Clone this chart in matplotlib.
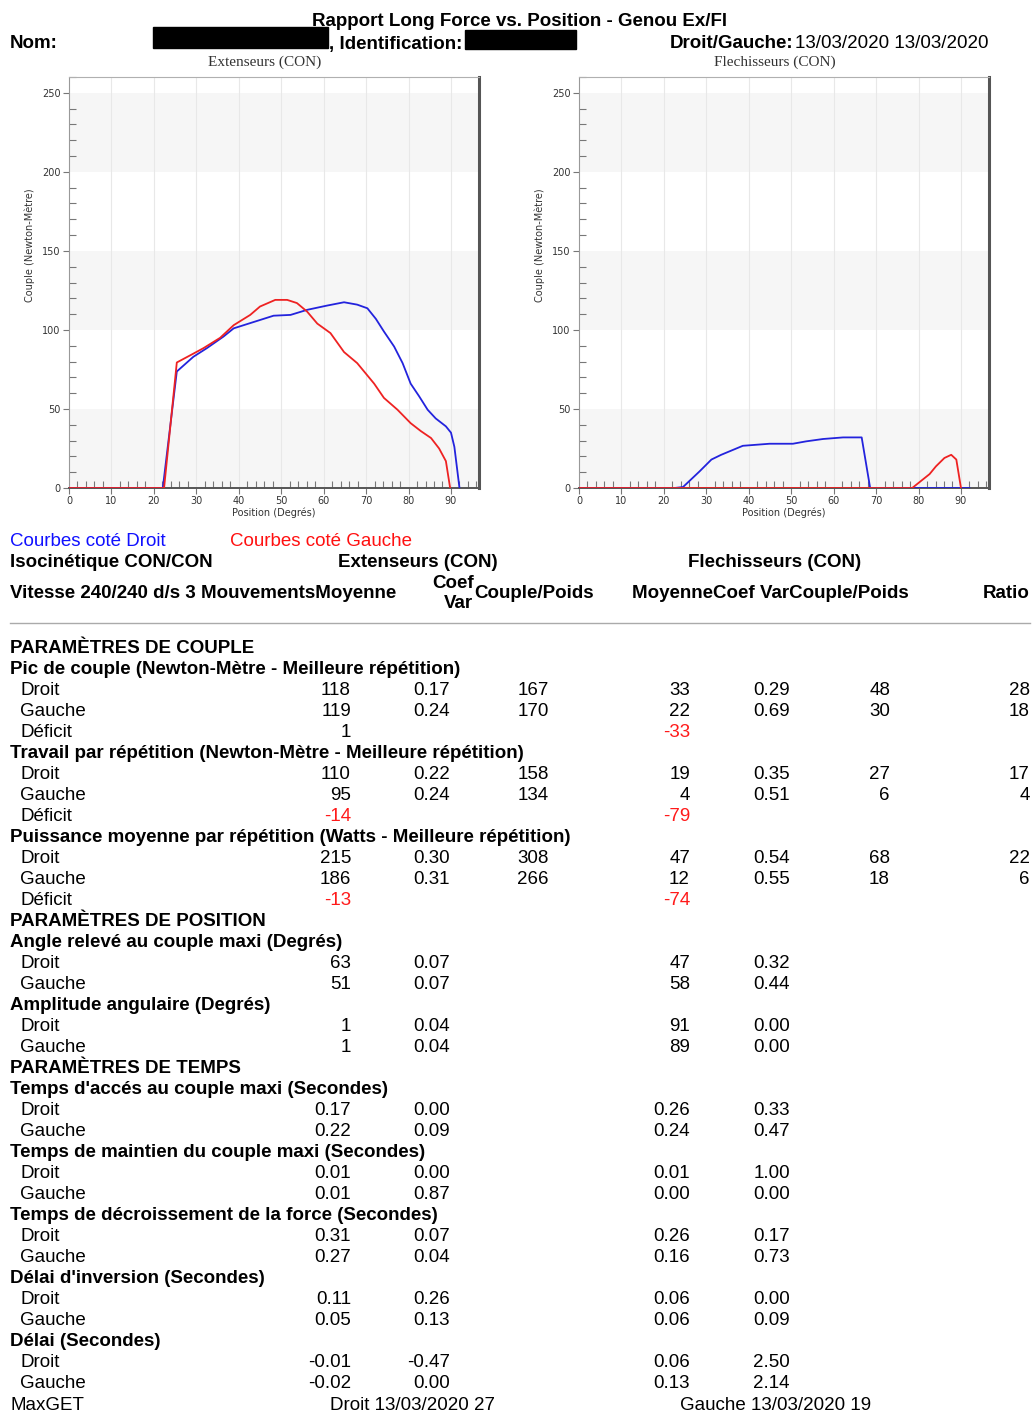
import matplotlib
matplotlib.use('Agg')
import matplotlib.pyplot as plt
from matplotlib.patches import Rectangle
from matplotlib.ticker import MultipleLocator

W, H = 1033, 1416

# courbes couple / position (degrés, Newton-Mètre)
ext_droit_pos = [0, 22.1, 25.4, 29.3, 32.5, 36.4, 38.8, 43.5, 48.2, 52.2, 56.1, 60.8, 64.8,
                 67.9, 70.3, 72.3, 74.2, 76.6, 78.6, 80.5, 82.5, 84.5, 86.4, 88.8, 90.0, 90.8, 92.0]
ext_droit_val = [0, 0, 73.7, 83, 88.5, 95.8, 101, 105, 109, 109.5, 112.7, 115.4, 117.5,
                 116, 113.7, 107, 99, 89.5, 79, 66, 58, 49.5, 44, 39, 35, 26, 0]
ext_gauche_pos = [0, 22.4, 25.4, 29.3, 31.7, 35.6, 38.8, 42.7, 45.0, 48.6, 51.4, 53.7, 56.1,
                  58.5, 61.6, 64.8, 67.9, 71.9, 74.2, 77.4, 80.5, 82.9, 85.3, 87.2, 88.8, 89.8]
ext_gauche_val = [0, 0, 79.4, 85, 88.5, 95, 103, 109.5, 114.8, 119, 119, 117, 111.6,
                  104, 98, 86, 79, 66, 57, 49.5, 41, 36, 31.6, 25, 17, 0]
flex_droit_pos = [0, 22.5, 24.5, 28.4, 31.2, 33.5, 38.6, 44.9, 50.4, 53.5, 57.5, 62.2, 66.6, 68.6, 92.0]
flex_droit_val = [0, 0, 0.6, 10.5, 18, 21, 26.7, 28, 28, 29.5, 31, 32, 32, 0, 0]
flex_gauche_pos = [0, 78.5, 82.6, 84.1, 86.1, 87.7, 88.9, 90.0]
flex_gauche_val = [0, 0, 8.8, 13.7, 19, 21, 18, 0]

# tableau des paramètres : Ext. moyenne, coef var, couple/poids, Flex. moyenne, coef var, couple/poids, ratio
table_rows = [
    ('section', 'PARAMÈTRES DE COUPLE', None),
    ('head', 'Pic de couple (Newton-Mètre - Meilleure répétition)', None),
    ('row', 'Droit', ['118', '0.17', '167', '33', '0.29', '48', '28']),
    ('row', 'Gauche', ['119', '0.24', '170', '22', '0.69', '30', '18']),
    ('row', 'Déficit', ['1', '', '', '-33', '', '', '']),
    ('head', 'Travail par répétition (Newton-Mètre - Meilleure répétition)', None),
    ('row', 'Droit', ['110', '0.22', '158', '19', '0.35', '27', '17']),
    ('row', 'Gauche', ['95', '0.24', '134', '4', '0.51', '6', '4']),
    ('row', 'Déficit', ['-14', '', '', '-79', '', '', '']),
    ('head', 'Puissance moyenne par répétition (Watts - Meilleure répétition)', None),
    ('row', 'Droit', ['215', '0.30', '308', '47', '0.54', '68', '22']),
    ('row', 'Gauche', ['186', '0.31', '266', '12', '0.55', '18', '6']),
    ('row', 'Déficit', ['-13', '', '', '-74', '', '', '']),
    ('section', 'PARAMÈTRES DE POSITION', None),
    ('head', 'Angle relevé au couple maxi (Degrés)', None),
    ('row', 'Droit', ['63', '0.07', '', '47', '0.32', '', '']),
    ('row', 'Gauche', ['51', '0.07', '', '58', '0.44', '', '']),
    ('head', 'Amplitude angulaire (Degrés)', None),
    ('row', 'Droit', ['1', '0.04', '', '91', '0.00', '', '']),
    ('row', 'Gauche', ['1', '0.04', '', '89', '0.00', '', '']),
    ('section', 'PARAMÈTRES DE TEMPS', None),
    ('head', "Temps d'accés au couple maxi (Secondes)", None),
    ('row', 'Droit', ['0.17', '0.00', '', '0.26', '0.33', '', '']),
    ('row', 'Gauche', ['0.22', '0.09', '', '0.24', '0.47', '', '']),
    ('head', 'Temps de maintien du couple maxi (Secondes)', None),
    ('row', 'Droit', ['0.01', '0.00', '', '0.01', '1.00', '', '']),
    ('row', 'Gauche', ['0.01', '0.87', '', '0.00', '0.00', '', '']),
    ('head', 'Temps de décroissement de la force (Secondes)', None),
    ('row', 'Droit', ['0.31', '0.07', '', '0.26', '0.17', '', '']),
    ('row', 'Gauche', ['0.27', '0.04', '', '0.16', '0.73', '', '']),
    ('head', "Délai d'inversion (Secondes)", None),
    ('row', 'Droit', ['0.11', '0.26', '', '0.06', '0.00', '', '']),
    ('row', 'Gauche', ['0.05', '0.13', '', '0.06', '0.09', '', '']),
    ('head', 'Délai (Secondes)', None),
    ('row', 'Droit', ['-0.01', '-0.47', '', '0.06', '2.50', '', '']),
    ('row', 'Gauche', ['-0.02', '0.00', '', '0.13', '2.14', '', '']),
]
col_right = [351, 450, 549, 690, 790, 890, 1030]

SANS = 'Liberation Sans'
SERIF = 'Liberation Serif'
FS = 13.5
BLUE = '#2323dd'
RED = '#ee2222'


def fx(px):
    return px / W


def fy(py):
    return 1 - py / H


def txt(x, yc, s, **kw):
    # yc = centre vertical de la ligne en pixels
    kw.setdefault('fontsize', FS)
    kw.setdefault('family', SANS)
    fig.text(fx(x), fy(yc + 6.5), s, va='baseline', **kw)


fig = plt.figure(figsize=(W / 100, H / 100), dpi=100)

# en-tête
txt(520, 20, 'Rapport Long Force vs. Position - Genou Ex/Fl', weight='bold', ha='center')
txt(10, 42, 'Nom:', weight='bold')
txt(329, 42, ', Identification:', weight='bold')
txt(670, 42, 'Droit/Gauche:', weight='bold')
txt(795, 42, '13/03/2020 13/03/2020')
for x0, y0, x1, y1 in [(153, 27, 328, 48), (465, 30, 576, 49)]:
    fig.patches.append(Rectangle((fx(x0), fy(y1)), (x1 - x0) / W, (y1 - y0) / H,
                                 transform=fig.transFigure, color='black'))


def torque_chart(left, title, droit, gauche):
    ax = fig.add_axes([fx(left), fy(488), 410 / W, 411 / H])
    ax.set_xlim(0, 96.6)
    ax.set_ylim(0, 260)
    for lo in (0, 100, 200):
        ax.axhspan(lo, lo + 50, color='#f6f6f6', zorder=0, lw=0)
    for g in range(10, 100, 10):
        ax.axvline(g, color='#e8e8e8', lw=0.8, zorder=0.5)
    ax.plot(*droit, color=BLUE, lw=1.3, zorder=3)
    ax.plot(*gauche, color=RED, lw=1.3, zorder=4)

    ax.xaxis.set_major_locator(MultipleLocator(10))
    ax.xaxis.set_minor_locator(MultipleLocator(2))
    ax.yaxis.set_major_locator(MultipleLocator(50))
    ax.yaxis.set_minor_locator(MultipleLocator(10))
    ax.tick_params(which='major', direction='out', length=4, color='#777777',
                   labelsize=7, labelcolor='#333333', pad=2)
    ax.tick_params(which='minor', direction='in', length=5, color='#777777', width=0.8)
    ax.set_xticks(range(0, 100, 10))
    ax.set_xticklabels([str(v) for v in range(0, 100, 10)])
    for lab in ax.get_xticklabels() + ax.get_yticklabels():
        lab.set_family('DejaVu Sans')

    ax.spines['top'].set_color('#b0b0b0')
    ax.spines['left'].set_color('#999999')
    ax.spines['right'].set_color('#555555')
    ax.spines['right'].set_linewidth(2.2)
    ax.spines['bottom'].set_color('#555555')
    ax.spines['bottom'].set_linewidth(1.4)

    ax.set_xlabel('Position (Degrés)', fontsize=7, color='#333333', labelpad=1)
    ax.set_ylabel('Couple (Newton-Mètre)', fontsize=7, color='#333333')
    ax.yaxis.set_label_coords(-0.083, 0.59)
    fig.text(fx(left + 196), fy(62), title, family=SERIF, fontsize=11,
             color='#333333', ha='center', va='center')
    return ax


torque_chart(69, 'Extenseurs (CON)', (ext_droit_pos, ext_droit_val),
             (ext_gauche_pos, ext_gauche_val))
torque_chart(579, 'Flechisseurs (CON)', (flex_droit_pos, flex_droit_val),
             (flex_gauche_pos, flex_gauche_val))

# légende et en-têtes du tableau
txt(10, 539, 'Courbes coté Droit', color='#1010ff')
txt(230, 539, 'Courbes coté Gauche', color='#ff1010')
txt(10, 561, 'Isocinétique CON/CON', weight='bold')
txt(338, 561, 'Extenseurs (CON)', weight='bold')
txt(688, 561, 'Flechisseurs (CON)', weight='bold')
txt(10, 591, 'Vitesse 240/240 d/s 3 MouvementsMoyenne', weight='bold')
txt(432, 581, 'Coef', weight='bold')
txt(444, 601, 'Var', weight='bold')
txt(474, 591, 'Couple/Poids', weight='bold')
txt(632, 591, 'MoyenneCoef VarCouple/Poids', weight='bold')
txt(1030, 591, 'Ratio', weight='bold', ha='right')
fig.add_artist(plt.Line2D([fx(10), fx(1030)], [fy(623), fy(623)], color='#aaaaaa', lw=1))

row_h = 736 / 35
for i, (kind, label, vals) in enumerate(table_rows):
    yc = 646 + i * row_h
    if kind == 'row':
        txt(20, yc, label)
        for v, xr in zip(vals, col_right):
            if v:
                col = '#ff1a1a' if v.startswith('-') and label == 'Déficit' else 'black'
                txt(xr, yc, v, ha='right', color=col)
    else:
        txt(10, yc, label, weight='bold')

txt(10, 1404, 'MaxGET')
txt(330, 1404, 'Droit 13/03/2020 27')
txt(680, 1404, 'Gauche 13/03/2020 19')

fig.savefig('out.png', dpi=100, facecolor='white')
